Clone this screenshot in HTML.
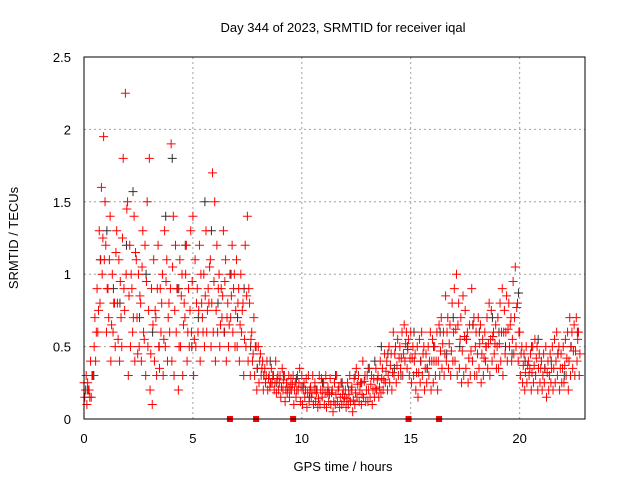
<!DOCTYPE html>
<html><head><meta charset="utf-8"><style>
body{margin:0;background:#fff;}
svg text{font-family:"Liberation Sans",sans-serif;font-size:13px;fill:#000;}
</style></head><body>
<svg id="chart" width="640" height="480" xmlns="http://www.w3.org/2000/svg"></svg>
<script>
const xTicks=[0,5,10,15,20];
const yTicks=[0,0.5,1,1.5,2,2.5];
const yTickLabels=["0","0.5","1","1.5","2","2.5"];
const redA=[.25,.3,.2,.4,.3,.7,.9,1.3,1.6,1.95,
1.2,.9,1.4,1.0,.8,1.3,1.1,.7,1.8,2.25,
1.5,1.2,.9,1.4,1.1,1.0,.8,1.3,1.2,1.5,
1.8,.9,1.1,.7,1.2,.9,1.0,1.3,1.1,.8,
1.9,1.4,1.2,.9,1.1,1.0,.8,1.2,.9,1.3,
1.4,1.1,.9,1.2,.8,1.0,1.3,.9,1.1,1.7,
1.5,1.2,1.0,.9,1.3,1.1,.8,1.0,1.2,1.0,
1.1,.9,1.0,.8,1.2,1.4,.8,.6,.7,.5,
.5,.45,.4,.35,.4,.3,.35,.3,.4,.3,
.3,.35,.3,.25,.3,.28,.3,.25,.3,.35,
.3,.25,.28,.3,.22,.3,.25,.2,.3,.28,
.25,.3,.22,.28,.2,.25,.3,.22,.25,.2,
.2,.25,.3,.22,.28,.35,.3,.25,.4,.3,
.3,.35,.3,.28,.35,.3,.4,.35,.45,.4,
.5,.45,.6,.5,.55,.5,.6,.65,.6,.55,
.6,.5,.45,.5,.55,.6,.5,.45,.5,.6,
.55,.5,.6,.65,.7,.6,.85,.7,.65,.8,
.9,1.0,.8,.7,.85,.75,.6,.65,.9,.7,
.6,.7,.65,.55,.6,.7,.8,.75,.6,.65,
.7,.8,.9,.75,.85,.8,.7,.95,1.05,.8,
.6,.5,.45,.5,.4,.45,.5,.55,.5,.45,
.4,.45,.5,.4,.45,.5,.55,.6,.5,.45,
.5,.55,.6,.7,.6,.65,.7,.6];
const redB=[.15,.1,.2,.15,.3,.4,.6,.8,1.0,1.1,
.6,.7,.4,.6,.5,.8,.4,.5,.9,1.0,
.3,.5,.6,.4,.7,.5,.4,.6,.3,.5,
.2,.1,.4,.3,.5,.6,.3,.5,.4,.6,
.4,.3,.6,.2,.5,.3,.7,.4,.5,.6,
.3,.5,.6,.4,.7,.5,.6,.8,.5,.6,
.4,.6,.5,.7,.6,.4,.5,.7,.6,.5,
.5,.4,.6,.3,.5,.4,.3,.4,.3,.2,
.25,.3,.2,.25,.2,.22,.25,.2,.18,.2,
.15,.2,.12,.18,.15,.2,.1,.15,.2,.12,
.1,.15,.08,.12,.15,.1,.12,.08,.1,.15,
.1,.08,.12,.1,.05,.1,.12,.08,.1,.12,
.08,.1,.12,.05,.1,.15,.12,.1,.15,.12,
.12,.15,.1,.15,.2,.15,.18,.2,.25,.2,
.25,.2,.3,.25,.3,.35,.3,.4,.35,.3,
.25,.3,.2,.15,.25,.3,.2,.25,.3,.2,
.25,.3,.2,.3,.35,.3,.4,.35,.3,.4,
.4,.3,.35,.25,.3,.35,.25,.3,.4,.3,
.3,.35,.25,.3,.4,.35,.3,.4,.45,.35,
.35,.4,.3,.45,.4,.5,.4,.45,.5,.4,
.3,.25,.2,.25,.3,.2,.25,.3,.2,.25,
.2,.25,.15,.2,.25,.2,.25,.3,.2,.25,
.25,.3,.2,.3,.35,.3,.4,.3];
const redC=[.2,.25,.15,.3,.5,.6,.75,1.1,1.25,1.5,
.9,1.1,.65,.8,1.15,.55,.95,1.25,.75,1.45,
.85,1.0,.7,1.15,.45,.85,1.05,.55,.95,.75,
.45,.65,.75,.9,.35,.8,.55,.95,.7,.9,
1.05,.75,.9,.5,.85,.65,1.0,.6,.75,.95,
.55,.8,.75,1.0,.6,.85,.75,1.05,.8,.95,
.75,.9,.65,.85,.95,.7,.65,.85,.9,.75,
.8,.65,.75,.55,.85,.9,.55,.45,.5,.35,
.4,.35,.3,.3,.28,.25,.3,.25,.28,.25,
.22,.27,.2,.22,.22,.24,.2,.2,.25,.22,
.2,.2,.18,.2,.18,.2,.18,.14,.2,.2,
.18,.18,.17,.18,.12,.17,.2,.15,.17,.15,
.14,.17,.2,.13,.18,.24,.2,.17,.26,.2,
.2,.24,.2,.21,.27,.22,.28,.27,.33,.3,
.37,.32,.45,.37,.42,.42,.45,.52,.48,.42,
.42,.4,.32,.32,.4,.45,.35,.35,.4,.4,
.4,.4,.4,.47,.52,.45,.6,.52,.47,.6,
.62,.65,.55,.47,.57,.55,.42,.47,.65,.5,
.45,.52,.45,.42,.5,.52,.55,.57,.52,.5,
.52,.6,.6,.6,.62,.65,.55,.7,.77,.6,
.45,.37,.32,.37,.35,.32,.37,.42,.35,.35,
.3,.35,.32,.3,.35,.35,.4,.45,.35,.35,
.37,.42,.4,.5,.47,.47,.55,.45];
const gray=[.2,.3,1.1,1.3,.9,.8,1.2,1.57,.7,1.0,
.6,.5,1.4,1.8,.9,1.2,.5,.7,1.5,1.3,
.8,.6,1.0,.7,.9,.5,.35,.3,.4,.25,
.3,.2,.28,.22,.15,.2,.25,.18,.3,.25,
.2,.3,.25,.35,.4,.5,.45,.35,.3,.5,
.6,.4,.35,.5,.6,.45,.7,.5,.55,.65,
.6,.5,.7,.6,.5,.45,.87,.4,.5,.55,
.35,.4,.45,.3,.5,.6];
const gapTimes=[6.7,7.9,9.6,14.9,16.3];
const redStep=0.1, grayStep=0.3;

const L=84,R=585,T=57,B=419,xMax=23,yMax=2.5;
const sx=v=>L+(v/xMax)*(R-L);
const sy=v=>B-(v/yMax)*(B-T);
const svg=document.getElementById('chart');
const NS='http://www.w3.org/2000/svg';
function mk(tag,attrs,parent){const e=document.createElementNS(NS,tag);for(const k in attrs)e.setAttribute(k,attrs[k]);(parent||svg).appendChild(e);return e;}

const grid=mk('g',{});


xTicks.forEach(v=>{if(v>0){mk('line',{x1:sx(v),x2:sx(v),y1:T,y2:B,stroke:'#a0a0a0','stroke-dasharray':'2,3'},grid);}});
yTicks.forEach(v=>{if(v>0&&v<yMax){mk('line',{x1:L,x2:R,y1:sy(v),y2:sy(v),stroke:'#a0a0a0','stroke-dasharray':'2,3'},grid);}});

function plus(g,x,y,c){mk('path',{d:`M${x-4.5},${y}h9M${x},${y-4.5}v9`,stroke:c,'stroke-width':1,fill:'none'},g);}
const gg=mk('g',{});


gray.forEach((v,i)=>plus(gg,sx(i*grayStep+0.15),sy(v),'#303030'));
const rg=mk('g',{});


redA.forEach((v,i)=>plus(rg,sx(i*redStep),sy(v),'#ff0000'));
redB.forEach((v,i)=>plus(rg,sx(i*redStep+0.033),sy(v),'#ff0000'));
redC.forEach((v,i)=>plus(rg,sx(i*redStep+0.066),sy(v),'#ff0000'));
const gm=mk('g',{});


gapTimes.forEach(t=>mk('rect',{x:sx(t)-3,y:B-3,width:6,height:6,fill:'#ff0000'},gm));

const frame=mk('rect',{x:L,y:T,width:R-L,height:B-T,fill:'none',stroke:'#000','stroke-width':1});



xTicks.forEach(v=>{const t=mk('text',{x:sx(v),y:443,'text-anchor':'middle'});t.textContent=String(v);

});
yTicks.forEach((v,i)=>{const t=mk('text',{x:71,y:sy(v)+5,'text-anchor':'end'});t.textContent=yTickLabels[i];

});
</script>
<svg style="position:absolute;left:0;top:0" width="640" height="480">
<text x="343" y="32" text-anchor="middle">Day 344 of 2023, SRMTID for receiver iqal</text>
<text x="343" y="471" text-anchor="middle">GPS time / hours</text>
<text x="0" y="0" text-anchor="middle" transform="translate(18,238) rotate(-90)">SRMTID / TECUs</text>
</svg>
</body></html>
